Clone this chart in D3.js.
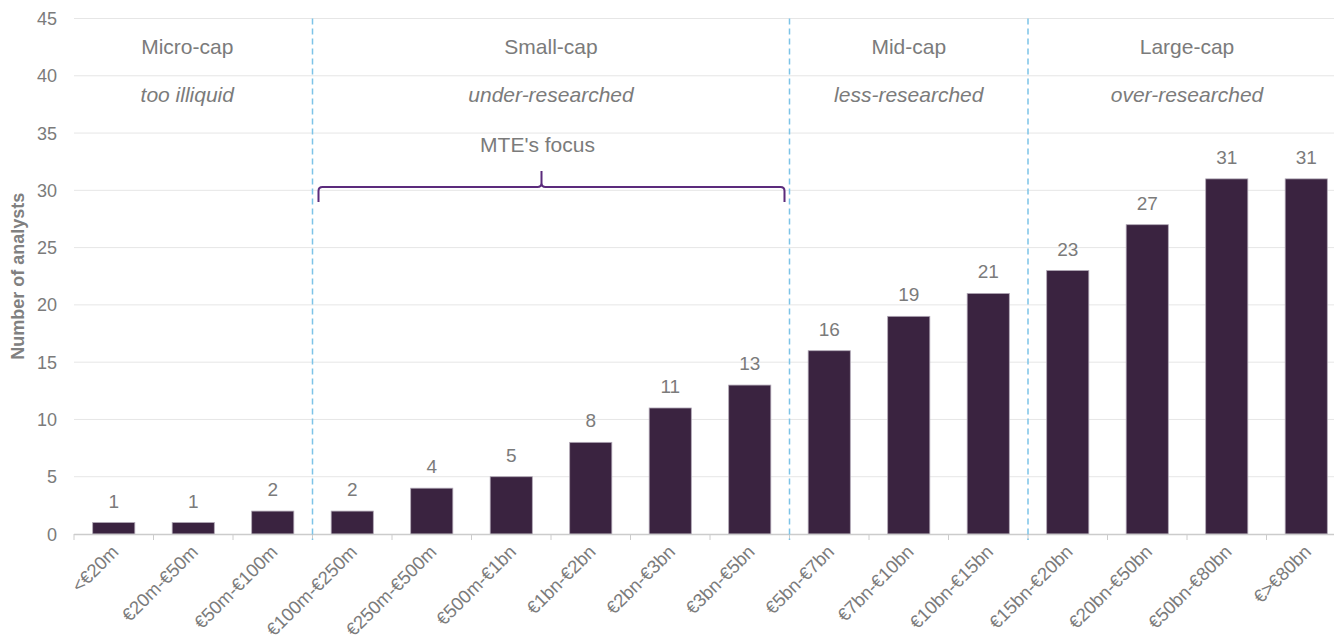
<!DOCTYPE html>
<html>
<head>
<meta charset="utf-8">
<script src="https://cdn.jsdelivr.net/npm/d3@7"></script>
<style>
  body { margin: 0; background: #fff; }
  svg { display: block; font-family: "Liberation Sans", Arial, sans-serif; }
</style>
</head>
<body>
<svg id="chart" width="1334" height="637"></svg>
<script>
'use strict'

const categories = ['<€20m', '€20m-€50m', '€50m-€100m', '€100m-€250m', '€250m-€500m', '€500m-€1bn',
  '€1bn-€2bn', '€2bn-€3bn', '€3bn-€5bn', '€5bn-€7bn', '€7bn-€10bn', '€10bn-€15bn',
  '€15bn-€20bn', '€20bn-€50bn', '€50bn-€80bn', '€>€80bn']
const analysts = [1, 1, 2, 2, 4, 5, 8, 11, 13, 16, 19, 21, 23, 27, 31, 31]
const yTicks = [0, 5, 10, 15, 20, 25, 30, 35, 40, 45]

// segments: first and last category index of each cap band
const segmentNames = ['Micro-cap', 'Small-cap', 'Mid-cap', 'Large-cap']
const segmentNotes = ['too illiquid', 'under-researched', 'less-researched', 'over-researched']
const segmentStart = [0, 3, 9, 12]
const segmentEnd = [2, 8, 11, 15]

const focusLabel = "MTE's focus"
const focusStart = 3
const focusEnd = 8

const svg = d3.select('#chart')
const left = 74
const band = 79.5

const x = d3.scaleBand()
  .domain(categories)
  .range([left, left + band * categories.length])
  .paddingInner(0.47)
  .paddingOuter(0.235)

const y = d3.scaleLinear()
  .domain([0, 45])
  .range([534, 18.5])

const grey = '#7b7b7b'
const step = x.step()
// left edge of category slot i (slot boundaries carry the ticks)
const edge = (i) => x.range()[0] + i * step

// gridlines
svg.append('g')
  .selectAll('line')
  .data(yTicks.filter(t => t > 0))
  .join('line')
  .attr('x1', left)
  .attr('x2', 1334)
  .attr('y1', d => y(d))
  .attr('y2', d => y(d))
  .attr('stroke', '#e6e6e6')
  .attr('stroke-width', 1)

// y axis labels
svg.append('g')
  .selectAll('text')
  .data(yTicks)
  .join('text')
  .attr('x', 57)
  .attr('y', d => y(d) + 6.5)
  .attr('text-anchor', 'end')
  .attr('font-size', 18)
  .attr('fill', grey)
  .text(d => d)

svg.append('text')
  .attr('transform', `translate(24, ${y(22.5)}) rotate(-90)`)
  .attr('text-anchor', 'middle')
  .attr('font-size', 18)
  .attr('font-weight', 'bold')
  .attr('fill', '#808080')
  .text('Number of analysts')

// bars
svg.append('g')
  .selectAll('rect')
  .data(analysts)
  .join('rect')
  .attr('x', (d, i) => x(categories[i]))
  .attr('width', x.bandwidth())
  .attr('y', d => y(d))
  .attr('height', d => y(0) - y(d))
  .attr('fill', '#3a2340')
  .attr('stroke', '#b0a7b5')
  .attr('stroke-width', 0.8)

// value labels
svg.append('g')
  .selectAll('text')
  .data(analysts)
  .join('text')
  .attr('x', (d, i) => x(categories[i]) + x.bandwidth() / 2)
  .attr('y', d => y(d) - 15)
  .attr('text-anchor', 'middle')
  .attr('font-size', 19)
  .attr('fill', grey)
  .text(d => d)

// x axis line and ticks
svg.append('line')
  .attr('x1', left)
  .attr('x2', 1334)
  .attr('y1', y(0) + 0.5)
  .attr('y2', y(0) + 0.5)
  .attr('stroke', '#cccccc')
  .attr('stroke-width', 1.5)

svg.append('g')
  .selectAll('line')
  .data(d3.range(categories.length + 1))
  .join('line')
  .attr('x1', i => edge(i))
  .attr('x2', i => edge(i))
  .attr('y1', y(0))
  .attr('y2', y(0) + 6)
  .attr('stroke', '#cccccc')
  .attr('stroke-width', 1)

// x labels
svg.append('g')
  .selectAll('text')
  .data(categories)
  .join('text')
  .attr('transform', d => `translate(${x(d) + x.bandwidth() / 2 + 6}, ${y(0) + 19}) rotate(-45)`)
  .attr('text-anchor', 'end')
  .attr('font-size', 18.5)
  .attr('fill', grey)
  .text(d => d)

// dashed separators between cap segments
svg.append('g')
  .selectAll('line')
  .data(segmentStart.slice(1))
  .join('line')
  .attr('x1', i => edge(i))
  .attr('x2', i => edge(i))
  .attr('y1', y(45))
  .attr('y2', y(0) + 6)
  .attr('stroke', '#7cc3e8')
  .attr('stroke-width', 1.5)
  .attr('stroke-dasharray', '6,4')

// segment headers
const headers = svg.append('g')
segmentNames.forEach((name, k) => {
  const cx = (edge(segmentStart[k]) + edge(segmentEnd[k] + 1)) / 2 - (k === 0 ? 6 : 0)
  headers.append('text')
    .attr('x', cx)
    .attr('y', 54)
    .attr('text-anchor', 'middle')
    .attr('font-size', 21)
    .attr('fill', grey)
    .text(name)
  headers.append('text')
    .attr('x', cx)
    .attr('y', 102)
    .attr('text-anchor', 'middle')
    .attr('font-size', 21)
    .attr('font-style', 'italic')
    .attr('fill', grey)
    .text(segmentNotes[k])
})

// focus brace
const bx0 = edge(focusStart) + 6
const bx1 = edge(focusEnd + 1) - 5
const bmid = (bx0 + bx1) / 2 - 10
const by = y(30.3)
const r = 4
const brace = d3.path()
brace.moveTo(bx0, by + 15)
brace.lineTo(bx0, by + r)
brace.quadraticCurveTo(bx0, by, bx0 + r, by)
brace.lineTo(bmid - r, by)
brace.quadraticCurveTo(bmid, by, bmid, by - r)
brace.lineTo(bmid, by - 16)
brace.moveTo(bmid, by - r)
brace.quadraticCurveTo(bmid, by, bmid + r, by)
brace.lineTo(bx1 - r, by)
brace.quadraticCurveTo(bx1, by, bx1, by + r)
brace.lineTo(bx1, by + 15)

svg.append('path')
  .attr('d', brace.toString())
  .attr('fill', 'none')
  .attr('stroke', '#5b2b7c')
  .attr('stroke-width', 2)

svg.append('text')
  .attr('x', bmid - 4)
  .attr('y', 152)
  .attr('text-anchor', 'middle')
  .attr('font-size', 21)
  .attr('fill', grey)
  .text(focusLabel)
</script>
</body>
</html>
